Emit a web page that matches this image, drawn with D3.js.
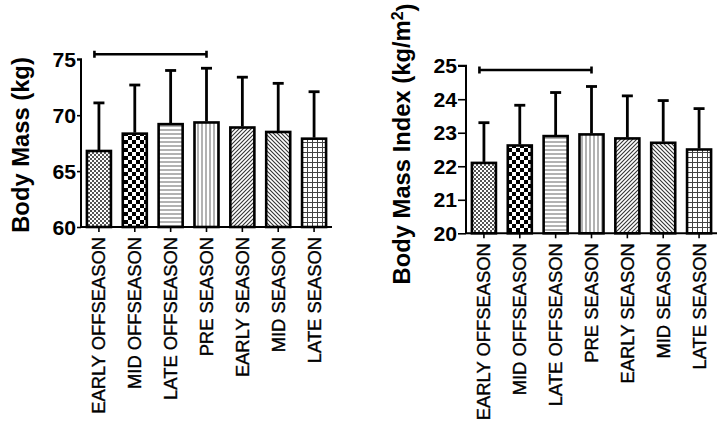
<!DOCTYPE html>
<html><head><meta charset="utf-8">
<script src="https://cdn.jsdelivr.net/npm/d3@7"></script>
<style>
html,body{margin:0;padding:0;background:#fff;}
svg{display:block;font-family:"Liberation Sans",Arial,sans-serif;}
</style></head>
<body>
<svg id="chart" width="725" height="429"></svg>
<script>
const categories = ["EARLY OFFSEASON","MID OFFSEASON","LATE OFFSEASON","PRE SEASON","EARLY SEASON","MID SEASON","LATE SEASON"];
const massMean = [66.8, 68.35, 69.2, 69.35, 68.9, 68.5, 67.9];
const massSD   = [4.3, 4.35, 4.8, 4.85, 4.5, 4.35, 4.2];
const bmiMean  = [22.1, 22.62, 22.9, 22.95, 22.83, 22.7, 22.5];
const bmiSD    = [1.2, 1.2, 1.3, 1.43, 1.27, 1.26, 1.22];
const massTicks = [60, 65, 70, 75];
const bmiTicks  = [20, 21, 22, 23, 24, 25];
const massBracket = {from: "EARLY OFFSEASON", to: "PRE SEASON", value: 75.45};
const bmiBracket  = {from: "EARLY OFFSEASON", to: "PRE SEASON", value: 24.87};

const svg = d3.select("#chart");
const defs = svg.append("defs");
function pat(id, w, h, draw){
  const p = defs.append("pattern").attr("id", id).attr("patternUnits","userSpaceOnUse")
    .attr("width", w).attr("height", h);
  p.append("rect").attr("width", w).attr("height", h).attr("fill", "#fff");
  draw(p);
}
pat("p0", 4, 4, p => { p.append("rect").attr("x",0).attr("y",0).attr("width",2).attr("height",2).attr("fill","#555");
                       p.append("rect").attr("x",2).attr("y",2).attr("width",2).attr("height",2).attr("fill","#555"); });
pat("p1", 8, 8, p => { p.append("rect").attr("x",0).attr("y",0).attr("width",4).attr("height",4).attr("fill","#000");
                       p.append("rect").attr("x",4).attr("y",4).attr("width",4).attr("height",4).attr("fill","#000"); });
pat("p2", 4, 4, p => { p.append("rect").attr("x",0).attr("y",1.5).attr("width",4).attr("height",1).attr("fill","#666"); });
pat("p3", 4, 4, p => { p.append("rect").attr("x",1.5).attr("y",0).attr("width",1).attr("height",4).attr("fill","#666"); });
pat("p4", 4, 4, p => { p.append("path").attr("d","M-1,5 L5,-1 M-1,1 L1,-1 M3,5 L5,3").attr("stroke","#333").attr("stroke-width",1.1); });
pat("p5", 4, 4, p => { p.append("path").attr("d","M-1,-1 L5,5 M3,-1 L5,1 M-1,3 L1,5").attr("stroke","#333").attr("stroke-width",1.1); });
pat("p6", 5, 5, p => { p.append("rect").attr("x",0).attr("y",2).attr("width",5).attr("height",1).attr("fill","#444");
                       p.append("rect").attr("x",2).attr("y",0).attr("width",1).attr("height",5).attr("fill","#444"); });

function stretch(sel, k){
  sel.each(function(){ const L = this.getComputedTextLength(); d3.select(this).attr("textLength", L*k).attr("lengthAdjust","spacingAndGlyphs"); });
}

function drawChart(o){
  const g = svg.append("g");
  const x = d3.scaleBand().domain(categories).range([o.x0, o.x1]).paddingInner(0.33).paddingOuter(0.165);
  const y = d3.scaleLinear().domain(o.domain).range([o.y0, o.y1]);
  g.selectAll("rect.bar").data(categories).join("rect").attr("class","bar")
    .attr("x", d => x(d)).attr("width", x.bandwidth())
    .attr("y", (d,i) => y(o.mean[i])).attr("height", (d,i) => y(o.domain[0]) - y(o.mean[i]))
    .attr("fill", (d,i) => "url(#p"+i+")").attr("stroke","#000").attr("stroke-width",2.6);
  const cx = d => x(d) + x.bandwidth()/2;
  g.selectAll("line.err").data(categories).join("line").attr("class","err")
    .attr("x1", cx).attr("x2", cx)
    .attr("y1", (d,i) => y(o.mean[i]) - 1).attr("y2", (d,i) => y(o.mean[i] + o.sd[i]))
    .attr("stroke","#000").attr("stroke-width",2.8);
  g.selectAll("line.cap").data(categories).join("line").attr("class","cap")
    .attr("x1", d => cx(d) - 5.5).attr("x2", d => cx(d) + 5.5)
    .attr("y1", (d,i) => y(o.mean[i] + o.sd[i])).attr("y2", (d,i) => y(o.mean[i] + o.sd[i]))
    .attr("stroke","#000").attr("stroke-width",2.8);
  const ya = g.append("g").attr("transform", `translate(${o.x0},0)`)
    .call(d3.axisLeft(y).tickValues(o.ticks).tickSize(o.ytick).tickPadding(1).tickFormat(d3.format("d")));
  ya.select(".domain").attr("stroke","#000").attr("stroke-width",2).attr("d", `M-${o.ytick},${y(o.domain[1])}H0V${y(o.domain[0])}`);
  ya.selectAll(".tick line").attr("stroke","#000").attr("stroke-width",1.6);
  ya.selectAll(".tick text").attr("fill","#000").attr("font-size",20).attr("font-weight","bold")
    .attr("font-family","'Liberation Sans',Arial,sans-serif").attr("dy","0.36em").call(stretch, 1.06);
  const xa = g.append("g").attr("transform", `translate(0,${o.y0})`)
    .call(d3.axisBottom(x).tickSize(5).tickPadding(0));
  xa.select(".domain").attr("stroke","#000").attr("stroke-width",2).attr("d", `M${o.x0},0H${o.x1}`);
  xa.selectAll(".tick line").attr("stroke","#000").attr("stroke-width",1.6);
  xa.selectAll(".tick text").attr("fill","#000").attr("font-size",18).attr("font-weight","normal")
    .attr("stroke","#000").attr("stroke-width",0.35)
    .attr("font-family","'Liberation Sans',Arial,sans-serif")
    .attr("transform","rotate(-90)").attr("text-anchor","end")
    .attr("x", -o.labOff).attr("y", 0).attr("dy","0.36em").call(stretch, 1.02);
  const bx1 = cx(o.bracket.from) - 4.5, bx2 = cx(o.bracket.to), by = y(o.bracket.value);
  g.append("path").attr("d", `M${bx1},${by}H${bx2}M${bx1},${by-3.5}V${by+3.5}M${bx2},${by-3.5}V${by+3.5}`)
    .attr("stroke","#000").attr("stroke-width",2.6).attr("fill","none");
  const t = g.append("text").attr("transform", `translate(${o.tx},${o.ty}) rotate(-90)`)
    .attr("text-anchor","middle").attr("font-size",24).attr("font-weight","bold").attr("fill","#000");
  o.title(t);
  t.call(stretch, o.tk);
}

drawChart({x0:81, x1:332, y0:227, y1:59.3, domain:[60,75], mean:massMean, sd:massSD, ticks:massTicks,
  ytick:4, labOff:10, bracket:massBracket, tx:29, ty:145, tk:0.99,
  title: t => t.text("Body Mass (kg)")});
drawChart({x0:466, x1:717, y0:233.3, y1:65.7, domain:[20,25], mean:bmiMean, sd:bmiSD, ticks:bmiTicks,
  ytick:8, labOff:10, bracket:bmiBracket, tx:410, ty:144, tk:0.99,
  title: t => { t.append("tspan").text("Body Mass Index (kg/m");
                t.append("tspan").attr("dy","-0.45em").attr("font-size",16).text("2");
                t.append("tspan").attr("dy","0.45em").text(")"); }});
</script>
</body></html>
